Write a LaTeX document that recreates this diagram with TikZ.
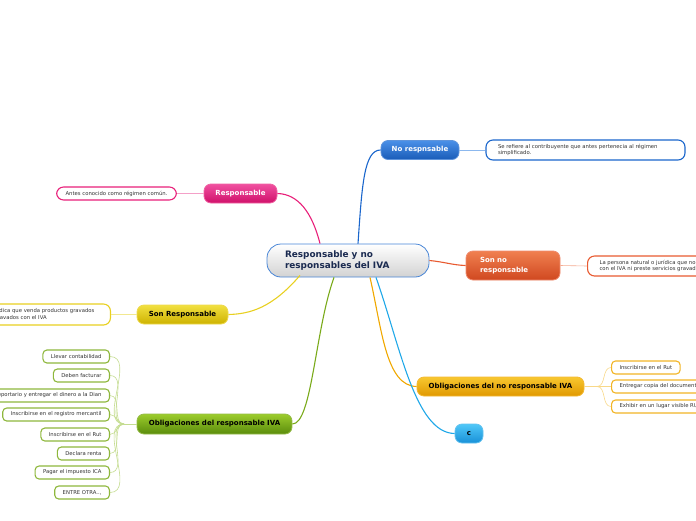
\documentclass[tikz,border=0pt]{standalone}
\usepackage{fontspec}
\setmainfont{DejaVu Sans}
\definecolor{cblue}{HTML}{1A66CC}
\definecolor{cbluel}{HTML}{8CB8EE}
\definecolor{cbluetop}{HTML}{4A90E8}
\definecolor{cbluebot}{HTML}{1A5CB8}
\definecolor{cpink}{HTML}{E8207A}
\definecolor{cpinkl}{HTML}{F4A0C8}
\definecolor{cpinktop}{HTML}{F050A0}
\definecolor{cpinkbot}{HTML}{D0106A}
\definecolor{cred}{HTML}{E85A30}
\definecolor{credl}{HTML}{F4AA90}
\definecolor{credtop}{HTML}{F08050}
\definecolor{credbot}{HTML}{D04820}
\definecolor{cyel}{HTML}{E8D020}
\definecolor{cyell}{HTML}{F2E890}
\definecolor{cyeltop}{HTML}{F2E040}
\definecolor{cyelbot}{HTML}{CDB200}
\definecolor{cgreen}{HTML}{7AAA1A}
\definecolor{cgreenl}{HTML}{C4DC90}
\definecolor{cgreentop}{HTML}{9CCC2C}
\definecolor{cgreenbot}{HTML}{5A8C0C}
\definecolor{corange}{HTML}{F0A800}
\definecolor{corangel}{HTML}{F8D888}
\definecolor{corangetop}{HTML}{F8C830}
\definecolor{corangebot}{HTML}{E09800}
\definecolor{ccyan}{HTML}{20A8E8}
\definecolor{ccyantop}{HTML}{50C8F8}
\definecolor{ccyanbot}{HTML}{1890D8}
\definecolor{navy}{HTML}{1A2A50}
\definecolor{txt}{HTML}{333333}
\begin{document}
\begin{tikzpicture}[x=1pt,y=-1pt,
  branch/.style={rounded corners=7pt, minimum height=19pt, inner sep=0pt, line width=0.8pt,
    font=\fontsize{7}{8.5}\selectfont\bfseries},
  detail/.style={rounded corners=7pt, draw, line width=1.1pt, fill=white, inner xsep=12pt, inner ysep=2pt,
    align=left, font=\fontsize{5.3}{6.5}\selectfont, text=txt},
  leaf/.style={rounded corners=4pt, draw, line width=1.1pt, fill=white, minimum height=13pt,
    inner ysep=0pt, inner xsep=8pt, font=\fontsize{5.3}{6.3}\selectfont, text=txt},
  mainline/.style={line width=1.1pt},
  subline/.style={line width=0.6pt}]
\useasboundingbox (0,0) rectangle (696,520);
\clip (0,0) rectangle (696,520);

% central
\node[draw=cblue!80, line width=0.8pt, rounded corners=14pt, top color=white, bottom color=gray!35,
  minimum width=162pt, minimum height=33pt, text width=126pt, inner xsep=18pt, align=left,
  font=\fontsize{8.9}{10.5}\selectfont\bfseries, text=navy] (cen) at (348,260.5)
  {Responsable y no\\responsables del IVA};

% branches
\node[branch, draw=cblue!70, top color=cbluetop, bottom color=cbluebot, text=white, minimum width=78pt] (nor) at (420,150) {No respnsable};
\node[branch, draw=cpink!70, top color=cpinktop, bottom color=cpinkbot, text=white, minimum width=73pt] (res) at (240.5,193.5) {Responsable};
\node[branch, draw=cred!70, top color=credtop, bottom color=credbot, text=white, minimum width=94pt, minimum height=29pt,
  text width=66pt, align=left, inner xsep=14pt, font=\fontsize{7}{10.5}\selectfont\bfseries] (snr) at (513,265.5) {Son no\\responsable};
\node[branch, draw=cyel!80, top color=cyeltop, bottom color=cyelbot, text=black, minimum width=91pt] (sr) at (182.5,314.5) {Son Responsable};
\node[branch, draw=cgreen!80, top color=cgreentop, bottom color=cgreenbot, text=black, minimum width=155pt, minimum height=20pt] (gob) at (214.5,424) {Obligaciones del responsable IVA};
\node[branch, draw=corange!80, top color=corangetop, bottom color=corangebot, text=black, minimum width=167pt] (onr) at (500.5,386.5) {Obligaciones del no responsable IVA};
\node[branch, draw=ccyan!70, top color=ccyantop, bottom color=ccyanbot, text=black, minimum width=28pt] (cc) at (469,433.5) {c};

% main connectors
\draw[mainline, cblue] ([xshift=10pt]cen.north) .. controls (362,185) and (364,150) .. (nor.west);
\draw[mainline, cpink] ([xshift=-28pt]cen.north) .. controls (312,212) and (298,194) .. (res.east);
\draw[mainline, cred] (cen.east) .. controls (445,262) and (452,265) .. (snr.west);
\draw[mainline, cyel] ([xshift=-48pt,yshift=2pt]cen.south) .. controls (272,308) and (250,314) .. (sr.east);
\draw[mainline, cgreen] ([xshift=-14pt]cen.south) .. controls (315,330) and (312,424) .. (gob.east);
\draw[mainline, corange] ([xshift=22pt]cen.south) .. controls (382,330) and (386,386) .. (onr.west);
\draw[mainline, ccyan] ([xshift=28pt]cen.south) .. controls (400,345) and (415,433) .. (cc.west);

% details
\node[detail, draw=cblue, minimum width=199pt, minimum height=20pt, text width=175pt] (nord) at (585.5,150)
  {Se refiere al contribuyente que antes pertenecia al régimen\\simplificado.};
\draw[subline, cbluel] (nor.east) -- (nord.west);
\node[detail, draw=cpink, minimum height=13pt, inner ysep=0pt, inner xsep=9pt] (resd) at (116.5,193.5)
  {Antes conocido como régimen común.};
\draw[subline, cpinkl] (res.west) -- (resd.east);
\node[detail, draw=cred, minimum height=20pt, anchor=west] (snrd) at (587,266)
  {La persona natural o jurídica que no venda productos gravados\\con el IVA ni preste servicios gravados};
\draw[subline, credl] (snr.east) -- (snrd.west);
\node[detail, draw=cyel, minimum height=21pt, anchor=east, inner xsep=16pt] (srd) at (111,314.5)
  {La persona natural o jurídica que venda productos gravados\\o que preste servicios gravados con el IVA};
\draw[subline, cyell] (sr.west) -- (srd.east);

% green leaves
\coordinate (gj) at (124,424);
\draw[subline, cgreenl] (gob.west) -- (gj);
\foreach \n/\y/\t in {g1/356.5/Llevar contabilidad, g2/375.5/Deben facturar,
  g3/395.5/{Cobrar el IVA, reportario y entregar el dinero a la Dian},
  g4/414.5/Inscribirse en el registro mercantil, g5/434.5/Inscribirse en el Rut,
  g6/453.5/Declara renta, g7/472.5/Pagar el impuesto ICA, g8/492.5/{ENTRE OTRA..,}}{
  \node[leaf, draw=cgreen!85, anchor=east] (\n) at (110,\y) {\t};
  \draw[subline, cgreenl] (gj) to[out=180,in=0] (\n.east);
}

% orange leaves
\coordinate (oj) at (597,386.5);
\draw[subline, corangel] (onr.east) -- (oj);
\foreach \n/\y/\t in {o1/367.5/Inscribirse en el Rut, o2/386.5/Entregar copia del documento RUT,
  o3/406.5/Exhibir en un lugar visible RUT}{
  \node[leaf, draw=corange!85, anchor=west] (\n) at (611,\y) {\t};
  \draw[subline, corangel] (oj) to[out=0,in=180] (\n.west);
}
\end{tikzpicture}
\end{document}
